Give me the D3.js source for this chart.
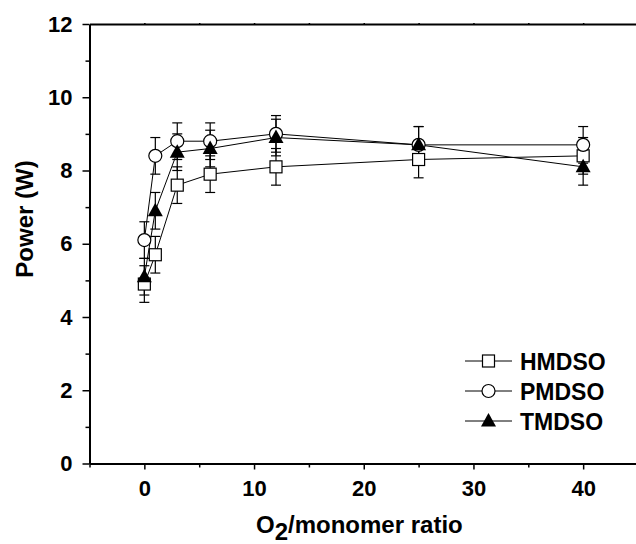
<!DOCTYPE html>
<html>
<head>
<meta charset="utf-8">
<script src="https://cdn.jsdelivr.net/npm/d3@7"></script>
<style>
  body { margin: 0; background: #fff; }
  svg { display: block; font-family: "Liberation Sans", Arial, sans-serif; font-weight: bold; }
</style>
</head>
<body>
<div id="chart"></div>
<script>
// O2/monomer ratio vs power, three monomers
const ratios = [0, 1, 3, 6, 12, 25, 40];
const hmdso = [4.9, 5.7, 7.6, 7.9, 8.1, 8.3, 8.4];
const pmdso = [6.1, 8.4, 8.8, 8.8, 9.0, 8.7, 8.7];
const tmdso = [5.1, 6.9, 8.5, 8.6, 8.9, 8.7, 8.1];
const hmdsoErr = [0.5, 0.5, 0.5, 0.5, 0.5, 0.5, 0.5];
const pmdsoErr = [0.5, 0.5, 0.5, 0.5, 0.5, 0.5, 0.5];
const tmdsoErr = [0.5, 0.5, 0.5, 0.5, 0.5, 0.5, 0.5];
const seriesNames = ['HMDSO', 'PMDSO', 'TMDSO'];
const xTicks = [0, 10, 20, 30, 40];
const yTicks = [0, 2, 4, 6, 8, 10, 12];

const width = 636, height = 544;
const plotLeft = 89.5, plotRight = 638, plotTop = 24, plotBottom = 463.5;

const svg = d3.select('#chart').append('svg')
  .attr('width', width)
  .attr('height', height);

const x = d3.scaleLinear().domain([-5, 45]).range([plotLeft, plotRight]);
const y = d3.scaleLinear().domain([0, 12]).range([plotBottom, plotTop]);

// axes
svg.append('g')
  .attr('transform', `translate(0,${plotBottom})`)
  .call(d3.axisBottom(x).tickValues(xTicks).tickSize(6).tickPadding(11).tickSizeOuter(0));
svg.append('g')
  .attr('transform', `translate(0,${plotBottom})`)
  .call(d3.axisBottom(x).tickValues([-5, 5, 15, 25, 35]).tickSize(4).tickFormat('').tickSizeOuter(0))
  .select('.domain').remove();

svg.append('g')
  .attr('transform', `translate(${plotLeft},0)`)
  .call(d3.axisLeft(y).tickValues(yTicks).tickSize(7).tickPadding(10).tickSizeOuter(0));
svg.append('g')
  .attr('transform', `translate(${plotLeft},0)`)
  .call(d3.axisLeft(y).tickValues([1, 3, 5, 7, 9, 11]).tickSize(4).tickFormat('').tickSizeOuter(0))
  .select('.domain').remove();

svg.append('g')
  .attr('transform', `translate(0,${plotTop})`)
  .call(d3.axisTop(x).tickValues([0, 5, 10, 15, 20, 25, 30, 35, 40]).tickSize(1).tickFormat('').tickSizeOuter(0));

svg.selectAll('.domain').attr('stroke', '#000').attr('stroke-width', 2);
svg.selectAll('.tick line').attr('stroke', '#000').attr('stroke-width', 1.5);
svg.selectAll('.tick text')
  .attr('fill', '#000')
  .style('font-size', '22px')
  .style('font-weight', 'bold')
  .style('font-family', '"Liberation Sans", Arial, sans-serif');

// axis titles
svg.append('text')
  .attr('transform', `translate(33,219) rotate(-90)`)
  .attr('text-anchor', 'middle')
  .style('font-size', '24px')
  .text('Power (W)');

const xt = svg.append('text')
  .attr('x', 256)
  .attr('y', 533)
  .style('font-size', '24px');
xt.append('tspan').text('O');
xt.append('tspan').attr('dy', 7).text('2');
xt.append('tspan').attr('dy', -7).text('/monomer ratio');

// series
const series = [
  { name: seriesNames[0], vals: hmdso, err: hmdsoErr, shape: 'square' },
  { name: seriesNames[1], vals: pmdso, err: pmdsoErr, shape: 'circle' },
  { name: seriesNames[2], vals: tmdso, err: tmdsoErr, shape: 'triangle' }
];

function drawMarker(g, shape, cx, cy) {
  if (shape === 'square') {
    g.append('rect').attr('x', cx - 6).attr('y', cy - 6).attr('width', 12).attr('height', 12)
      .attr('fill', '#fff').attr('stroke', '#000').attr('stroke-width', 1.2);
  } else if (shape === 'circle') {
    g.append('circle').attr('cx', cx).attr('cy', cy).attr('r', 6.5)
      .attr('fill', '#fff').attr('stroke', '#000').attr('stroke-width', 1.2);
  } else {
    g.append('path')
      .attr('d', `M${cx},${cy - 8}L${cx + 7.5},${cy + 5.5}L${cx - 7.5},${cy + 5.5}Z`)
      .attr('fill', '#000');
  }
}

const line = d3.line().x(d => x(d[0])).y(d => y(d[1]));

series.forEach(s => {
  svg.append('path')
    .datum(ratios.map((r, i) => [r, s.vals[i]]))
    .attr('d', line)
    .attr('fill', 'none')
    .attr('stroke', '#000')
    .attr('stroke-width', 1);
});

series.forEach(s => {
  const g = svg.append('g');
  ratios.forEach((r, i) => {
    const cx = x(r);
    const y1 = y(s.vals[i] + s.err[i]), y2 = y(s.vals[i] - s.err[i]);
    g.append('line').attr('x1', cx).attr('x2', cx).attr('y1', y1).attr('y2', y2)
      .attr('stroke', '#000').attr('stroke-width', 1.2);
    [y1, y2].forEach(yy => g.append('line')
      .attr('x1', cx - 5).attr('x2', cx + 5).attr('y1', yy).attr('y2', yy)
      .attr('stroke', '#000').attr('stroke-width', 1.2));
  });
});

series.forEach(s => {
  const g = svg.append('g');
  ratios.forEach((r, i) => drawMarker(g, s.shape, x(r), y(s.vals[i])));
});

// legend
const legendY = [361, 391, 421];
series.forEach((s, i) => {
  const g = svg.append('g');
  const ly = legendY[i];
  g.append('line').attr('x1', 465).attr('x2', 512).attr('y1', ly).attr('y2', ly)
    .attr('stroke', '#000').attr('stroke-width', 1);
  drawMarker(g, s.shape, 488.5, ly);
  g.append('text').attr('x', 520).attr('y', ly + 8.5)
    .style('font-size', '23px').text(s.name);
});
</script>
</body>
</html>
